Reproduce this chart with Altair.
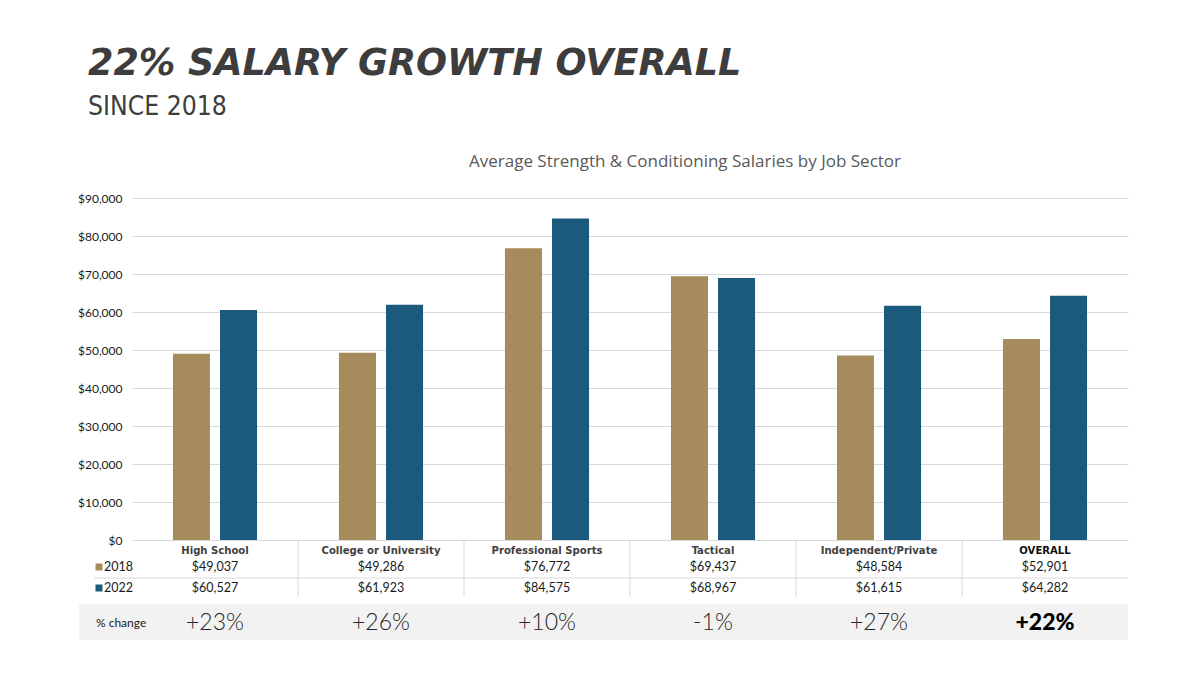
import altair as alt
import pandas as pd

# ---------------- data ----------------
categories = ["High School", "College or University", "Professional Sports",
              "Tactical", "Independent/Private", "OVERALL"]
salary_2018 = [49037, 49286, 76772, 69437, 48584, 52901]
salary_2022 = [60527, 61923, 84575, 68967, 61615, 64282]
pct_change = ["+23%", "+26%", "+10%", "-1%", "+27%", "+22%"]
years = ["2018", "2022"]
y_ticks = [0, 10000, 20000, 30000, 40000, 50000, 60000, 70000, 80000, 90000]

title_text = "22% SALARY GROWTH OVERALL"
subtitle_text = "SINCE 2018"
chart_title = "Average Strength & Conditioning Salaries by Job Sector"
pct_label = "% change"

GOLD = "#a68c5d"
BLUE = "#1b5a7c"
GRID = "#d9d9d9"
COND = "DejaVu Sans Condensed, DejaVu Sans, sans-serif"

W = 996      # view width
PH = 342     # bar plot height (y of $0)
H = 442      # total view height incl. table

bars_df = pd.DataFrame({
    "sector": categories * 2,
    "year": ["2018"] * len(categories) + ["2022"] * len(categories),
    "salary": salary_2018 + salary_2022,
})
table_df = pd.DataFrame({
    "sector": categories,
    "s2018": salary_2018,
    "s2022": salary_2022,
    "pct": pct_change,
})
legend_df = pd.DataFrame({"year": years})
one = pd.DataFrame({"t": [""]})

xscale = alt.Scale(domain=categories, paddingInner=0, paddingOuter=0)
xenc = alt.X("sector:N", scale=xscale, axis=None)
color = alt.Color("year:N", scale=alt.Scale(domain=years, range=[GOLD, BLUE]), legend=None)

bars = alt.Chart(bars_df).mark_bar().encode(
    x=xenc,
    xOffset=alt.XOffset("year:N", scale=alt.Scale(domain=years, paddingInner=0.213, paddingOuter=0.87)),
    y=alt.Y("salary:Q",
            scale=alt.Scale(domain=[0, 90000], range=[PH, 0], nice=False),
            axis=alt.Axis(values=y_ticks, format="$,.0f", title=None, grid=True,
                          gridColor=GRID, gridWidth=1, domain=False, ticks=False,
                          labelPadding=10, labelFont="Lato", labelFontSize=12,
                          labelColor="#1a1a1a")),
    color=color,
)

# gray % change band
band = alt.Chart(one).mark_rect(color="#f2f2f2").encode(
    x=alt.value(-53), x2=alt.value(W), y=alt.value(406), y2=alt.value(442))

# table lines
hline = alt.Chart(one).mark_rule(color=GRID, strokeWidth=1).encode(
    x=alt.value(-38), x2=alt.value(W), y=alt.value(380))
vlines = alt.Chart(table_df.iloc[1:]).mark_rule(color=GRID, strokeWidth=1).encode(
    x=alt.X("sector:N", scale=xscale, axis=None, bandPosition=0),
    y=alt.value(PH), y2=alt.value(399))

cat_text = alt.Chart(table_df).transform_filter("datum.sector != 'OVERALL'").mark_text(
    font=COND, fontWeight="bold", fontSize=11.2, color="#404040",
    baseline="middle").encode(x=xenc, y=alt.value(353), text="sector:N")
cat_text_overall = alt.Chart(table_df).transform_filter("datum.sector == 'OVERALL'").mark_text(
    font=COND, fontWeight="bold", fontSize=11.2, color="#111111",
    baseline="middle").encode(x=xenc, y=alt.value(353), text="sector:N")

v2018 = alt.Chart(table_df).mark_text(font="Lato", fontSize=12.5, color="#1a1a1a",
                                      baseline="middle").encode(
    x=xenc, y=alt.value(369), text=alt.Text("s2018:Q", format="$,.0f"))
v2022 = alt.Chart(table_df).mark_text(font="Lato", fontSize=12.5, color="#1a1a1a",
                                      baseline="middle").encode(
    x=xenc, y=alt.value(390), text=alt.Text("s2022:Q", format="$,.0f"))

pct_text = alt.Chart(table_df).transform_filter("datum.sector != 'OVERALL'").mark_text(
    font="Lato", fontWeight=300, fontSize=23, color="#262626", baseline="middle").encode(
    x=xenc, y=alt.value(425), text="pct:N")
pct_overall = alt.Chart(table_df).transform_filter("datum.sector == 'OVERALL'").mark_text(
    font="Lato", fontWeight=900, fontSize=23, color="#000000", baseline="middle").encode(
    x=xenc, y=alt.value(425), text="pct:N")

# legend in the table
leg_sq18 = alt.Chart(legend_df).transform_filter("datum.year == '2018'").mark_square(
    size=49, opacity=1).encode(x=alt.value(-33), y=alt.value(369), color=color)
leg_sq22 = alt.Chart(legend_df).transform_filter("datum.year == '2022'").mark_square(
    size=49, opacity=1).encode(x=alt.value(-33), y=alt.value(390), color=color)
leg_t18 = alt.Chart(legend_df).transform_filter("datum.year == '2018'").mark_text(
    font="Lato", fontSize=12.5, color="#1a1a1a", align="left", baseline="middle").encode(
    x=alt.value(-28), y=alt.value(369), text="year:N")
leg_t22 = alt.Chart(legend_df).transform_filter("datum.year == '2022'").mark_text(
    font="Lato", fontSize=12.5, color="#1a1a1a", align="left", baseline="middle").encode(
    x=alt.value(-28), y=alt.value(390), text="year:N")

pct_lab = alt.Chart(pd.DataFrame({"t": [pct_label]})).mark_text(
    font="Lato", fontSize=12, color="#1a1a1a", align="left", baseline="middle").encode(
    x=alt.value(-36), y=alt.value(425), text="t:N")

# titles
big_title = alt.Chart(pd.DataFrame({"t": [title_text]})).mark_text(
    font="DejaVu Sans", fontWeight="bold", fontStyle="italic", fontSize=36.5,
    color="#3d3d3d", align="left", baseline="alphabetic").encode(
    x=alt.value(-44), y=alt.value(-123), text="t:N")
sub_title = alt.Chart(pd.DataFrame({"t": [subtitle_text]})).mark_text(
    font=COND, fontSize=26.3, color="#3d3d3d", align="left",
    baseline="alphabetic").encode(x=alt.value(-44), y=alt.value(-83), text="t:N")
c_title = alt.Chart(pd.DataFrame({"t": [chart_title]})).mark_text(
    font="Open Sans", fontSize=17, color="#595959", align="center",
    baseline="middle").encode(x=alt.value(553), y=alt.value(-36), text="t:N")

chart = alt.layer(
    band, bars, hline, vlines, cat_text, cat_text_overall, v2018, v2022,
    pct_text, pct_overall, leg_sq18, leg_sq22, leg_t18, leg_t22, pct_lab,
    big_title, sub_title, c_title,
).properties(
    width=W, height=H,
    autosize=alt.AutoSizeParams(type="none"),
    padding={"left": 124, "top": 190, "right": 64, "bottom": 27},
    background="white",
).configure_view(strokeWidth=0)

chart.save("out.html", embed_options={"renderer": "svg", "actions": False})
